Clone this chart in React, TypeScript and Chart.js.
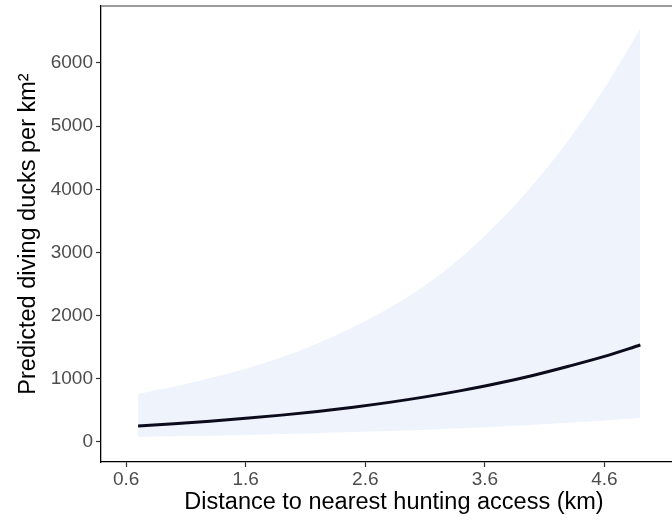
import React, { useEffect, useRef } from "react";
import { Chart, registerables } from "chart.js";

Chart.register(...registerables);

const distance = [0.7, 1.0, 1.3, 1.6, 1.9, 2.2, 2.5, 2.8, 3.1, 3.4, 3.7, 4.0, 4.3, 4.6, 4.9];
const predicted = [253, 288, 328, 374, 425, 484, 551, 627, 714, 813, 925, 1053, 1199, 1355, 1535];
const upperCI = [760, 880, 1010, 1160, 1340, 1560, 1820, 2120, 2480, 2920, 3450, 4070, 4780, 5600, 6550];
const lowerCI = [80, 89, 100, 112, 125, 139, 156, 174, 195, 218, 243, 272, 304, 340, 380];
const xTicks = [0.6, 1.6, 2.6, 3.6, 4.6];
const yTicks = [0, 1000, 2000, 3000, 4000, 5000, 6000];

const FONT = "'Liberation Sans', Arial, sans-serif";

export default function App() {
  const ref = useRef<HTMLCanvasElement | null>(null);

  useEffect(() => {
    document.body.style.margin = "0";
    if (!ref.current) return;
    const pts = (ys: number[]) => distance.map((x, i) => ({ x, y: ys[i] }));

    const topBorder = {
      id: "topBorder",
      afterDraw(chart: any) {
        const { ctx, chartArea } = chart;
        ctx.save();
        ctx.strokeStyle = "#7a7a7a";
        ctx.lineWidth = 1.5;
        ctx.beginPath();
        ctx.moveTo(chartArea.left, chartArea.top);
        ctx.lineTo(chartArea.right + 10, chartArea.top);
        ctx.stroke();
        ctx.restore();
      },
    };

    const chart = new Chart(ref.current, {
      type: "line",
      data: {
        datasets: [
          {
            label: "upper",
            data: pts(upperCI),
            borderWidth: 0,
            borderColor: "rgba(0,0,0,0)",
            backgroundColor: "#EEF3FC",
            fill: "+1",
            pointRadius: 0,
            cubicInterpolationMode: "monotone",
            order: 2,
          },
          {
            label: "lower",
            data: pts(lowerCI),
            borderWidth: 0,
            borderColor: "rgba(0,0,0,0)",
            backgroundColor: "#EEF3FC",
            fill: false,
            pointRadius: 0,
            cubicInterpolationMode: "monotone",
            order: 2,
          },
          {
            label: "predicted",
            data: pts(predicted),
            borderWidth: 3,
            borderColor: "#0b0b1c",
            fill: false,
            pointRadius: 0,
            cubicInterpolationMode: "monotone",
            order: 0,
          },
        ],
      },
      options: {
        animation: false,
        responsive: false,
        maintainAspectRatio: false,
        layout: { padding: { top: 6, right: 3, left: 0, bottom: 0 } },
        plugins: { legend: { display: false }, tooltip: { enabled: false } },
        scales: {
          x: {
            type: "linear",
            min: 0.39,
            max: 5.29,
            afterBuildTicks: (s: any) => {
              s.ticks = xTicks.map((v) => ({ value: v }));
            },
            afterFit: (s: any) => {
              s.height = 58;
              s.paddingLeft = 0;
              s.paddingRight = 0;
            },
            grid: {
              drawOnChartArea: false,
              drawTicks: true,
              tickLength: 5,
              tickColor: "#333333",
              tickWidth: 1.2,
            },
            border: { display: true, color: "#000000", width: 1.3 },
            ticks: {
              padding: 1,
              color: "#4d4d4d",
              font: { family: FONT, size: 19 },
              maxRotation: 0,
              callback: (v: any) => Number(v).toFixed(1),
            },
            title: {
              display: true,
              text: "Distance to nearest hunting access (km)",
              color: "#000000",
              font: { family: FONT, size: 23.5 },
              padding: { top: 0, bottom: 3 },
            },
          },
          y: {
            type: "linear",
            min: -317,
            max: 6902,
            afterBuildTicks: (s: any) => {
              s.ticks = yTicks.map((v) => ({ value: v }));
            },
            afterFit: (s: any) => {
              s.width = 101;
              s.paddingTop = 0;
              s.paddingBottom = 0;
            },
            grid: {
              drawOnChartArea: false,
              drawTicks: true,
              tickLength: 5,
              tickColor: "#333333",
              tickWidth: 1.2,
            },
            border: { display: true, color: "#000000", width: 1.3 },
            ticks: {
              padding: 3,
              color: "#4d4d4d",
              font: { family: FONT, size: 19 },
              callback: (v: any) => String(v),
            },
            title: {
              display: true,
              text: "Predicted diving ducks per km²",
              color: "#000000",
              font: { family: FONT, size: 23.5 },
              padding: { top: 14, bottom: 0 },
            },
          },
        },
      },
      plugins: [topBorder],
    });
    return () => chart.destroy();
  }, []);

  return (
    <div style={{ position: "relative", width: 672, height: 520, overflow: "hidden", background: "#fff" }}>
      <canvas ref={ref} width={690} height={520} style={{ display: "block", width: 690, height: 520 }} />
    </div>
  );
}
